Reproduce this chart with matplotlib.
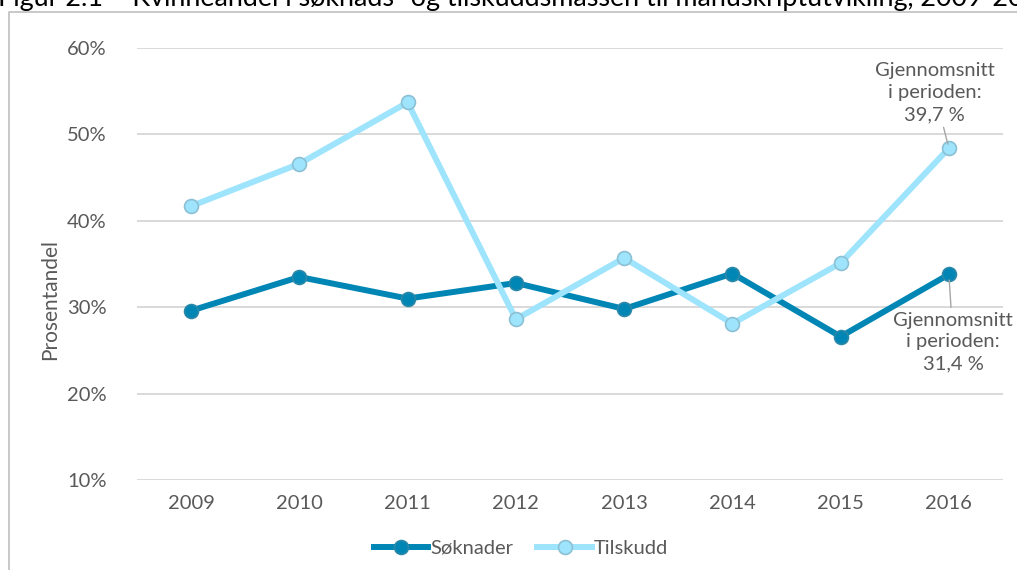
import matplotlib.pyplot as plt
from matplotlib.lines import Line2D
from matplotlib.ticker import FuncFormatter

years = ["2009", "2010", "2011", "2012", "2013", "2014", "2015", "2016"]
soknader = [29.6, 33.5, 31.0, 32.8, 29.8, 33.9, 26.6, 33.8]
tilskudd = [41.7, 46.6, 53.7, 28.6, 35.7, 28.1, 35.1, 48.4]
yticks = [10, 20, 30, 40, 50, 60]

TITLE = "Figur 2.1 \u2013 Kvinneandel i s\u00f8knads- og tilskuddsmassen til manuskriptutvikling, 2009-2016"
NOTE_TILSKUDD = "Gjennomsnitt\ni perioden:\n39,7 %"
NOTE_SOKNADER = "Gjennomsnitt\ni perioden:\n31,4 %"

DARK = "#0086b5"
LIGHT = "#9de4fc"
GREY = "#595959"
FS = 14.5

plt.rcParams["font.family"] = ["Lato", "DejaVu Sans"]

W, H = 1017, 570
fig = plt.figure(figsize=(W / 100, H / 100), dpi=100)
ax = fig.add_axes([137 / W, 1 - 480 / H, (1003 - 137) / W, (480 - 48) / H])

x = list(range(len(years)))
ax.plot(x, soknader, color=DARK, lw=4.3, marker="o", ms=10,
        mfc=DARK, mec="#2c88a8", mew=1.2, label="S\u00f8knader", zorder=3)
ax.plot(x, tilskudd, color=LIGHT, lw=4.3, marker="o", ms=10,
        mfc=LIGHT, mec="#8cc0d4", mew=1.2, label="Tilskudd", zorder=3)

ax.set_xlim(-0.5, len(years) - 0.5)
ax.set_ylim(10, 60)
ax.set_xticks(x)
ax.set_xticklabels(years)
ax.set_yticks(yticks)
ax.yaxis.set_major_formatter(FuncFormatter(lambda v, _: f"{v:.0f}%"))
ax.tick_params(length=0, labelsize=FS, colors=GREY, pad=11)
ax.tick_params(axis="y", pad=22)
ax.grid(axis="y", color="#d9d9d9", lw=1.4)
ax.set_axisbelow(True)
for s in ax.spines.values():
    s.set_visible(False)

# callouts for the last points
ax.annotate(NOTE_TILSKUDD, xy=(7, tilskudd[-1]), xytext=(6.87, 51.3),
            ha="center", va="bottom", fontsize=FS, color=GREY, linespacing=1.35,
            arrowprops=dict(arrowstyle="-", color="#a6a6a6", lw=1,
                            shrinkA=1, shrinkB=3))
ax.annotate(NOTE_SOKNADER, xy=(7, soknader[-1]), xytext=(7.04, 29.5),
            ha="center", va="top", fontsize=FS, color=GREY, linespacing=1.35,
            arrowprops=dict(arrowstyle="-", color="#a6a6a6", lw=1,
                            shrinkA=1, shrinkB=4))

fig.text(50 / W, 1 - 300 / H, "Prosentandel", rotation=90, ha="center",
         va="center", fontsize=FS + 0.5, color=GREY)

fig.legend(loc="center", bbox_to_anchor=(521 / W, 1 - 548 / H), ncol=2,
           frameon=False, fontsize=FS, labelcolor=GREY, handlelength=2.7,
           handletextpad=0.1, columnspacing=1.2)

# chart frame, cut by the page edges
fig.add_artist(Line2D([9 / W, 9 / W, 1.01], [-0.01, 1 - 12 / H, 1 - 12 / H],
                      transform=fig.transFigure, color="#bfbfbf", lw=1.2))
fig.text(-0.002, 1 - 6 / H, TITLE, ha="left", va="baseline", fontsize=19.4,
         color="black")

fig.savefig("out.png", dpi=100)
